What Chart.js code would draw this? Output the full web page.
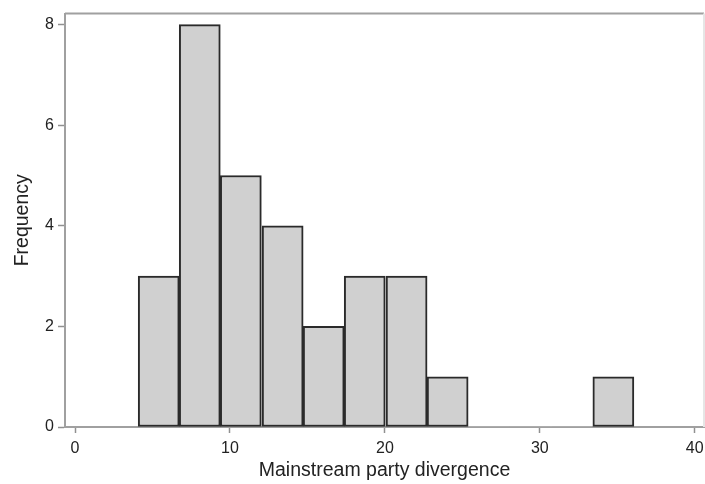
<!DOCTYPE html>
<html>
<head>
<meta charset="utf-8">
<script src="https://cdn.jsdelivr.net/npm/chart.js"></script>
<style>
  html, body { margin: 0; padding: 0; background: #fff; }
  #wrap { width: 705px; height: 484px; }
</style>
</head>
<body>
<div id="wrap"><canvas id="hist"></canvas></div>
<script>
// Histogram bins (bin centres and frequencies)
const binCenters = [5.4, 8.05, 10.7, 13.4, 16.05, 18.7, 21.4, 24.05, 26.7, 29.4, 32.05, 34.75];
const frequencies = [3, 8, 5, 4, 2, 3, 3, 1, 0, 0, 0, 1];
const xTicks = [0, 10, 20, 30, 40];
const yTicks = [0, 2, 4, 6, 8];

const frameLines = {
    id: 'frameLines',
    afterDraw(chart) {
        const { ctx, chartArea: a } = chart;
        ctx.save();
        ctx.lineWidth = 2;
        ctx.strokeStyle = '#a0a0a0';
        ctx.beginPath();
        ctx.moveTo(a.left, a.top);
        ctx.lineTo(a.right, a.top);
        ctx.stroke();
        ctx.strokeStyle = '#e6e6e6';
        ctx.beginPath();
        ctx.moveTo(a.right, a.top);
        ctx.lineTo(a.right, a.bottom);
        ctx.stroke();
        ctx.restore();
    }
};

const ctx = document.getElementById('hist').getContext('2d');
new Chart(ctx, {
    type: 'bar',
    data: {
        datasets: [{
            data: binCenters.map((x, i) => ({ x: x, y: frequencies[i] })),
            backgroundColor: '#d0d0d0',
            borderColor: '#2a2a2a',
            borderWidth: (c) => (c.raw && c.raw.y > 0 ? 2 : 0),
            borderSkipped: false,
            barPercentage: 1,
            categoryPercentage: 1
        }]
    },
    plugins: [frameLines],
    options: {
        responsive: true,
        maintainAspectRatio: false,
        animation: false,
        layout: { padding: { top: 12, right: 1, left: 0, bottom: 0 } },
        plugins: { legend: { display: false }, tooltip: { enabled: false } },
        scales: {
            x: {
                type: 'linear',
                offset: false,
                min: -0.65,
                max: 40.6,
                afterBuildTicks: (s) => { s.ticks = xTicks.map(v => ({ value: v })); },
                afterFit: (s) => { s.height = 57; s.paddingLeft = 0; s.paddingRight = 0; },
                grid: { offset: false, drawOnChartArea: false, tickLength: 6, tickColor: '#909090', tickWidth: 1.5 },
                border: { color: '#a0a0a0', width: 2 },
                ticks: { color: '#222', font: { family: 'Liberation Sans, Arial', size: 16 }, padding: 6, maxRotation: 0 },
                title: { display: true, text: 'Mainstream party divergence', color: '#222',
                         font: { family: 'Liberation Sans, Arial', size: 19.5 }, padding: { top: 0, bottom: 2 } }
            },
            y: {
                min: 0,
                max: 8.22,
                afterBuildTicks: (s) => { s.ticks = yTicks.map(v => ({ value: v })); },
                afterFit: (s) => { s.width = 65; },
                grid: { drawOnChartArea: false, tickLength: 7, tickColor: '#909090', tickWidth: 1.5 },
                border: { color: '#a0a0a0', width: 2 },
                ticks: { color: '#222', font: { family: 'Liberation Sans, Arial', size: 16 }, padding: 4 },
                title: { display: true, text: 'Frequency', color: '#222',
                         font: { family: 'Liberation Sans, Arial', size: 19.5 }, padding: { top: 11, bottom: 0 } }
            }
        }
    }
});
</script>
</body>
</html>
